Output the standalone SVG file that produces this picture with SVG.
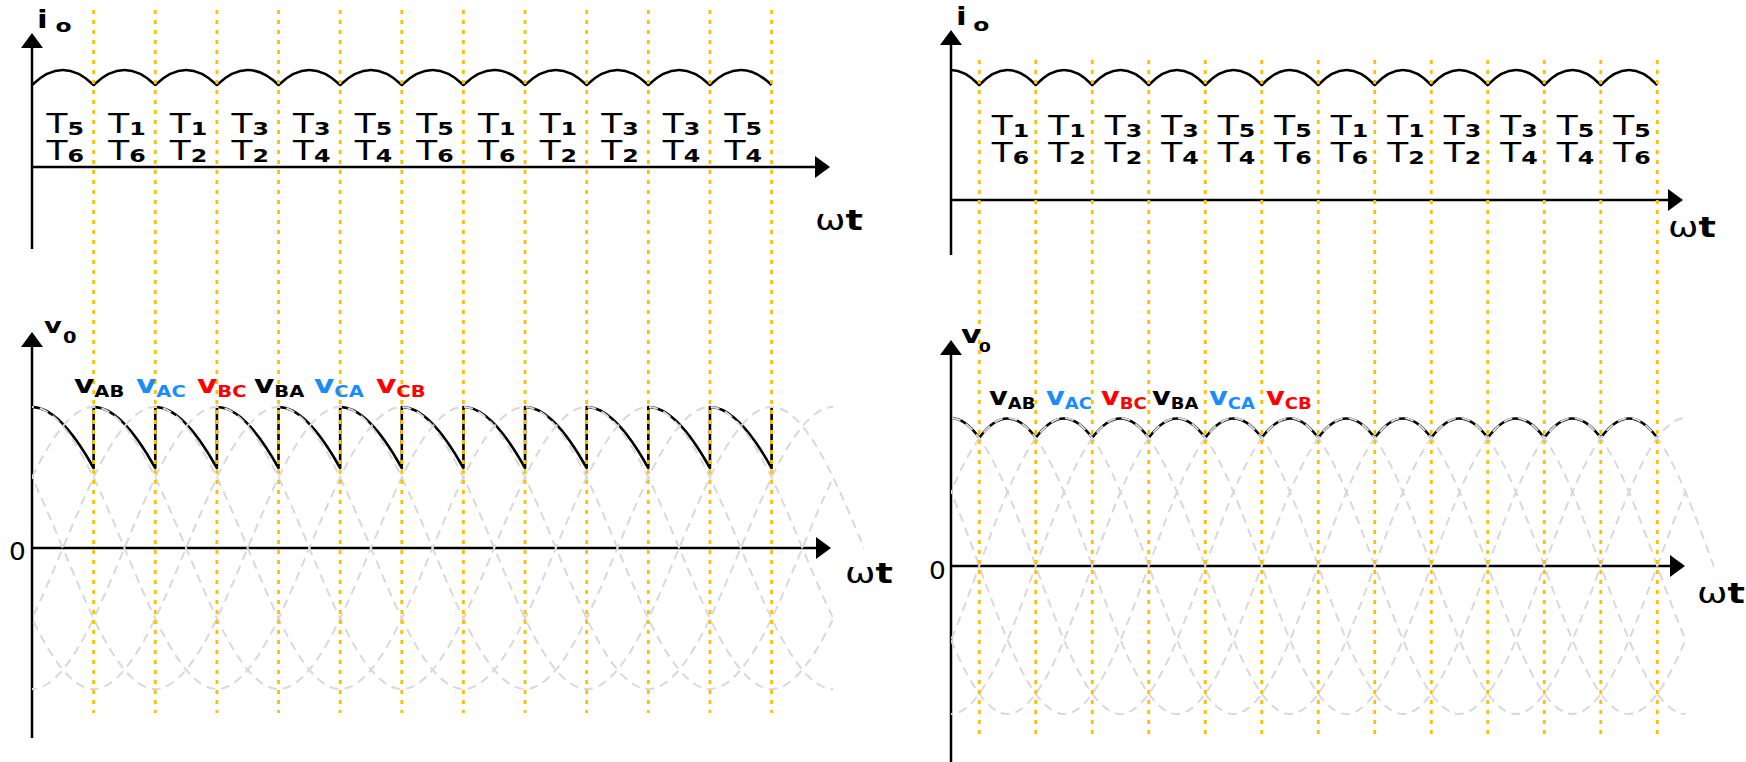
<svg xmlns="http://www.w3.org/2000/svg" width="1746" height="762" viewBox="0 0 1746 762">
<style>
.ax{stroke:#000;stroke-width:2.5;fill:none;marker-end:url(#arr)}
.wave{stroke:#000;stroke-width:2.6;fill:none;stroke-linejoin:round}
.sine{stroke:#d9d9d9;stroke-width:2;fill:none;stroke-dasharray:9 6}
.grid{stroke:#ffc000;stroke-width:2.8;stroke-dasharray:4 6;fill:none}
text{font-family:"DejaVu Sans","Liberation Sans",sans-serif;fill:#000}
.tl{font-size:26px;text-anchor:middle}
.ts{font-size:18px;font-weight:bold}
.vl{font-size:24px;font-weight:bold}
.vs{font-size:15px}
.ax-lbl{font-size:28px}
.bold{font-weight:bold}
.blu{fill:#1a8cff}
.red{fill:#ff0000}
</style>
<defs>
<marker id="arr" viewBox="0 0 15 22" refX="7" refY="11" markerWidth="15" markerHeight="22" markerUnits="userSpaceOnUse" orient="auto"><path d="M0,0 L15,11 L0,22 z" fill="#000"/></marker>
<path id="sineL" class="sine" d="M0,407 c20.544,0 41.089,27.876 61.633,70.5 c20.544,42.624 41.089,98.376 61.633,141 c20.544,42.624 41.089,70.5 61.633,70.5 c20.544,0 41.089,-27.876 61.633,-70.5 c20.544,-42.624 41.089,-98.376 61.633,-141 c20.544,-42.624 41.089,-70.5 61.633,-70.5 c20.544,0 41.089,27.876 61.633,70.5 c20.544,42.624 41.089,98.376 61.633,141 c20.544,42.624 41.089,70.5 61.633,70.5 c20.544,0 41.089,-27.876 61.633,-70.5 c20.544,-42.624 41.089,-98.376 61.633,-141 c20.544,-42.624 41.089,-70.5 61.633,-70.5 c20.544,0 41.089,27.876 61.633,70.5 c20.544,42.624 41.089,98.376 61.633,141 c20.544,42.624 41.089,70.5 61.633,70.5 c20.544,0 41.089,-27.876 61.633,-70.5 c20.544,-42.624 41.089,-98.376 61.633,-141 c20.544,-42.624 41.089,-70.5 61.633,-70.5 c20.544,0 41.089,27.876 61.633,70.5 c20.544,42.624 41.089,98.376 61.633,141"/>
<path id="sineR" class="sine" d="M0,418 c18.833,0 37.667,29.26 56.5,74 c18.833,44.74 37.667,103.26 56.5,148 c18.833,44.74 37.667,74 56.5,74 c18.833,0 37.667,-29.26 56.5,-74 c18.833,-44.74 37.667,-103.26 56.5,-148 c18.833,-44.74 37.667,-74 56.5,-74 c18.833,0 37.667,29.26 56.5,74 c18.833,44.74 37.667,103.26 56.5,148 c18.833,44.74 37.667,74 56.5,74 c18.833,0 37.667,-29.26 56.5,-74 c18.833,-44.74 37.667,-103.26 56.5,-148 c18.833,-44.74 37.667,-74 56.5,-74 c18.833,0 37.667,29.26 56.5,74 c18.833,44.74 37.667,103.26 56.5,148 c18.833,44.74 37.667,74 56.5,74 c18.833,0 37.667,-29.26 56.5,-74 c18.833,-44.74 37.667,-103.26 56.5,-148 c18.833,-44.74 37.667,-74 56.5,-74 c18.833,0 37.667,29.26 56.5,74 c18.833,44.74 37.667,103.26 56.5,148"/>
<clipPath id="clipL"><rect x="32" y="300" width="801.2" height="462"/></clipPath>
<clipPath id="clipL0"><rect x="32" y="300" width="832" height="462"/></clipPath>
<clipPath id="clipR"><rect x="951" y="300" width="734.5" height="462"/></clipPath>
<clipPath id="clipR0"><rect x="951" y="300" width="763" height="462"/></clipPath>
</defs>
<rect width="1746" height="762" fill="#fff"/>

<!-- LEFT TOP: output current -->
<g id="left-current">
<path class="ax" d="M32,249 V41"/>
<path class="ax" d="M32,167 H822"/>
<path class="wave" d="M32,85 c20.544,-20 41.089,-20 61.633,0 c20.544,-20 41.089,-20 61.633,0 c20.544,-20 41.089,-20 61.633,0 c20.544,-20 41.089,-20 61.633,0 c20.544,-20 41.089,-20 61.633,0 c20.544,-20 41.089,-20 61.633,0 c20.544,-20 41.089,-20 61.633,0 c20.544,-20 41.089,-20 61.633,0 c20.544,-20 41.089,-20 61.633,0 c20.544,-20 41.089,-20 61.633,0 c20.544,-20 41.089,-20 61.633,0 c20.544,-20 41.089,-20 61.633,0"/>
</g>

<!-- LEFT BOTTOM: output voltage -->
<g id="left-voltage">
<path class="ax" d="M32,738 V340"/>
<path class="ax" d="M32,548 H823"/>
<path class="wave" d="M32,407 c20.544,0 41.089,24.12 61.633,61 v-61 c20.544,0 41.089,24.12 61.633,61 v-61 c20.544,0 41.089,24.12 61.633,61 v-61 c20.544,0 41.089,24.12 61.633,61 v-61 c20.544,0 41.089,24.12 61.633,61 v-61 c20.544,0 41.089,24.12 61.633,61 v-61 c20.544,0 41.089,24.12 61.633,61 v-61 c20.544,0 41.089,24.12 61.633,61 v-61 c20.544,0 41.089,24.12 61.633,61 v-61 c20.544,0 41.089,24.12 61.633,61 v-61 c20.544,0 41.089,24.12 61.633,61 v-61 c20.544,0 41.089,24.12 61.633,61 v-61"/>
<g clip-path="url(#clipL0)"><use href="#sineL" x="-337.8"/></g>
<g clip-path="url(#clipL)">
<use href="#sineL" x="-276.165"/>
<use href="#sineL" x="-214.532"/>
<use href="#sineL" x="-152.9"/>
<use href="#sineL" x="-91.266"/>
<use href="#sineL" x="-29.633"/>
</g>
</g>

<!-- RIGHT TOP: output current -->
<g id="right-current">
<path class="ax" d="M951,255 V38"/>
<path class="ax" d="M951,200 H1675"/>
<path class="wave" d="M951,70 c9.417,0 18.833,5.23 28.25,15 c18.833,-20 37.667,-20 56.5,0 c18.833,-20 37.667,-20 56.5,0 c18.833,-20 37.667,-20 56.5,0 c18.833,-20 37.667,-20 56.5,0 c18.833,-20 37.667,-20 56.5,0 c18.833,-20 37.667,-20 56.5,0 c18.833,-20 37.667,-20 56.5,0 c18.833,-20 37.667,-20 56.5,0 c18.833,-20 37.667,-20 56.5,0 c18.833,-20 37.667,-20 56.5,0 c18.833,-20 37.667,-20 56.5,0 c18.833,-20 37.667,-20 56.5,0"/>
</g>

<!-- RIGHT BOTTOM: output voltage -->
<g id="right-voltage">
<path class="ax" d="M951,762 V348"/>
<path class="ax" d="M951,566 H1677"/>
<path class="wave" d="M951,418 c9.417,0 18.833,6.916 28.25,19.83 c18.833,-25.83 37.667,-25.83 56.5,0 c18.833,-25.83 37.667,-25.83 56.5,0 c18.833,-25.83 37.667,-25.83 56.5,0 c18.833,-25.83 37.667,-25.83 56.5,0 c18.833,-25.83 37.667,-25.83 56.5,0 c18.833,-25.83 37.667,-25.83 56.5,0 c18.833,-25.83 37.667,-25.83 56.5,0 c18.833,-25.83 37.667,-25.83 56.5,0 c18.833,-25.83 37.667,-25.83 56.5,0 c18.833,-25.83 37.667,-25.83 56.5,0 c18.833,-25.83 37.667,-25.83 56.5,0 c18.833,-25.83 37.667,-25.83 56.5,0"/>
<g clip-path="url(#clipR0)"><use href="#sineR" x="612"/></g>
<g clip-path="url(#clipR)">
<use href="#sineR" x="668.5"/>
<use href="#sineR" x="725"/>
<use href="#sineR" x="781.5"/>
<use href="#sineR" x="838"/>
<use href="#sineR" x="894.5"/>
</g>
</g>

<!-- yellow dotted markers -->
<g id="grid">
<path class="grid" d="M93.633,10V713M155.266,10V713M216.899,10V713M278.532,10V713M340.165,10V713M401.798,10V713M463.431,10V713M525.064,10V713M586.697,10V713M648.33,10V713M709.963,10V713M771.596,10V713"/>
<path class="grid" d="M979.25,60V737M1035.75,60V737M1092.25,60V737M1148.75,60V737M1205.25,60V737M1261.75,60V737M1318.25,60V737M1374.75,60V737M1431.25,60V737M1487.75,60V737M1544.25,60V737M1600.75,60V737M1657.25,60V737"/>
</g>

<!-- axis labels -->
<g id="labels-axes">
<text class="bold" font-size="24" transform="translate(37,28) scale(1.3,1)">i<tspan font-size="18" dx="6" dy="4">o</tspan></text>
<text class="bold" font-size="24" transform="translate(956,25) scale(1.3,1)">i<tspan font-size="18" dx="5" dy="6">o</tspan></text>
<text class="bold" font-size="21" transform="translate(44,333) scale(1.3,1)">v<tspan font-size="15" dx="1" dy="9.5">0</tspan></text>
<text class="bold" font-size="25" transform="translate(961,343) scale(1.25,1)">v<tspan font-size="14" dx="-2" dy="9">0</tspan></text>
<text font-size="24" transform="translate(9,560) scale(1.1,1)">0</text>
<text font-size="24" transform="translate(929,579) scale(1.1,1)">0</text>
<text class="ax-lbl" transform="translate(815,230) scale(1.3,1)">ω<tspan class="bold">t</tspan></text>
<text class="ax-lbl" transform="translate(1668,237) scale(1.3,1)">ω<tspan class="bold">t</tspan></text>
<text class="ax-lbl" transform="translate(845,583) scale(1.3,1)">ω<tspan class="bold">t</tspan></text>
<text class="ax-lbl" transform="translate(1697,603) scale(1.3,1)">ω<tspan class="bold">t</tspan></text>
</g>

<!-- thyristor labels left -->
<g id="thyristors-left">
<text class="tl" transform="translate(65.3,133) scale(1.32,1)">T<tspan class="ts" dy="2">5</tspan></text>
<text class="tl" transform="translate(65.3,160) scale(1.32,1)">T<tspan class="ts" dy="2">6</tspan></text>
<text class="tl" transform="translate(127,133) scale(1.32,1)">T<tspan class="ts" dy="2">1</tspan></text>
<text class="tl" transform="translate(127,160) scale(1.32,1)">T<tspan class="ts" dy="2">6</tspan></text>
<text class="tl" transform="translate(188.6,133) scale(1.32,1)">T<tspan class="ts" dy="2">1</tspan></text>
<text class="tl" transform="translate(188.6,160) scale(1.32,1)">T<tspan class="ts" dy="2">2</tspan></text>
<text class="tl" transform="translate(250.2,133) scale(1.32,1)">T<tspan class="ts" dy="2">3</tspan></text>
<text class="tl" transform="translate(250.2,160) scale(1.32,1)">T<tspan class="ts" dy="2">2</tspan></text>
<text class="tl" transform="translate(311.8,133) scale(1.32,1)">T<tspan class="ts" dy="2">3</tspan></text>
<text class="tl" transform="translate(311.8,160) scale(1.32,1)">T<tspan class="ts" dy="2">4</tspan></text>
<text class="tl" transform="translate(373.5,133) scale(1.32,1)">T<tspan class="ts" dy="2">5</tspan></text>
<text class="tl" transform="translate(373.5,160) scale(1.32,1)">T<tspan class="ts" dy="2">4</tspan></text>
<text class="tl" transform="translate(435.1,133) scale(1.32,1)">T<tspan class="ts" dy="2">5</tspan></text>
<text class="tl" transform="translate(435.1,160) scale(1.32,1)">T<tspan class="ts" dy="2">6</tspan></text>
<text class="tl" transform="translate(496.7,133) scale(1.32,1)">T<tspan class="ts" dy="2">1</tspan></text>
<text class="tl" transform="translate(496.7,160) scale(1.32,1)">T<tspan class="ts" dy="2">6</tspan></text>
<text class="tl" transform="translate(558.4,133) scale(1.32,1)">T<tspan class="ts" dy="2">1</tspan></text>
<text class="tl" transform="translate(558.4,160) scale(1.32,1)">T<tspan class="ts" dy="2">2</tspan></text>
<text class="tl" transform="translate(620,133) scale(1.32,1)">T<tspan class="ts" dy="2">3</tspan></text>
<text class="tl" transform="translate(620,160) scale(1.32,1)">T<tspan class="ts" dy="2">2</tspan></text>
<text class="tl" transform="translate(681.6,133) scale(1.32,1)">T<tspan class="ts" dy="2">3</tspan></text>
<text class="tl" transform="translate(681.6,160) scale(1.32,1)">T<tspan class="ts" dy="2">4</tspan></text>
<text class="tl" transform="translate(743.3,133) scale(1.32,1)">T<tspan class="ts" dy="2">5</tspan></text>
<text class="tl" transform="translate(743.3,160) scale(1.32,1)">T<tspan class="ts" dy="2">4</tspan></text>
</g>

<!-- thyristor labels right -->
<g id="thyristors-right">
<text class="tl" transform="translate(1010.5,135) scale(1.32,1)">T<tspan class="ts" dy="2">1</tspan></text>
<text class="tl" transform="translate(1010.5,162) scale(1.32,1)">T<tspan class="ts" dy="2">6</tspan></text>
<text class="tl" transform="translate(1067,135) scale(1.32,1)">T<tspan class="ts" dy="2">1</tspan></text>
<text class="tl" transform="translate(1067,162) scale(1.32,1)">T<tspan class="ts" dy="2">2</tspan></text>
<text class="tl" transform="translate(1123.5,135) scale(1.32,1)">T<tspan class="ts" dy="2">3</tspan></text>
<text class="tl" transform="translate(1123.5,162) scale(1.32,1)">T<tspan class="ts" dy="2">2</tspan></text>
<text class="tl" transform="translate(1180,135) scale(1.32,1)">T<tspan class="ts" dy="2">3</tspan></text>
<text class="tl" transform="translate(1180,162) scale(1.32,1)">T<tspan class="ts" dy="2">4</tspan></text>
<text class="tl" transform="translate(1236.5,135) scale(1.32,1)">T<tspan class="ts" dy="2">5</tspan></text>
<text class="tl" transform="translate(1236.5,162) scale(1.32,1)">T<tspan class="ts" dy="2">4</tspan></text>
<text class="tl" transform="translate(1293,135) scale(1.32,1)">T<tspan class="ts" dy="2">5</tspan></text>
<text class="tl" transform="translate(1293,162) scale(1.32,1)">T<tspan class="ts" dy="2">6</tspan></text>
<text class="tl" transform="translate(1349.5,135) scale(1.32,1)">T<tspan class="ts" dy="2">1</tspan></text>
<text class="tl" transform="translate(1349.5,162) scale(1.32,1)">T<tspan class="ts" dy="2">6</tspan></text>
<text class="tl" transform="translate(1406,135) scale(1.32,1)">T<tspan class="ts" dy="2">1</tspan></text>
<text class="tl" transform="translate(1406,162) scale(1.32,1)">T<tspan class="ts" dy="2">2</tspan></text>
<text class="tl" transform="translate(1462.5,135) scale(1.32,1)">T<tspan class="ts" dy="2">3</tspan></text>
<text class="tl" transform="translate(1462.5,162) scale(1.32,1)">T<tspan class="ts" dy="2">2</tspan></text>
<text class="tl" transform="translate(1519,135) scale(1.32,1)">T<tspan class="ts" dy="2">3</tspan></text>
<text class="tl" transform="translate(1519,162) scale(1.32,1)">T<tspan class="ts" dy="2">4</tspan></text>
<text class="tl" transform="translate(1575.5,135) scale(1.32,1)">T<tspan class="ts" dy="2">5</tspan></text>
<text class="tl" transform="translate(1575.5,162) scale(1.32,1)">T<tspan class="ts" dy="2">4</tspan></text>
<text class="tl" transform="translate(1632,135) scale(1.32,1)">T<tspan class="ts" dy="2">5</tspan></text>
<text class="tl" transform="translate(1632,162) scale(1.32,1)">T<tspan class="ts" dy="2">6</tspan></text>
</g>

<!-- line voltage labels left -->
<g id="vlabels-left">
<text class="vl" transform="translate(74,393) scale(1.3,1)">v<tspan class="vs" dy="4">AB</tspan></text>
<text class="vl blu" transform="translate(136,393) scale(1.3,1)">v<tspan class="vs" dy="4">AC</tspan></text>
<text class="vl red" transform="translate(197,393) scale(1.3,1)">v<tspan class="vs" dy="4">BC</tspan></text>
<text class="vl" transform="translate(254,393) scale(1.3,1)">v<tspan class="vs" dy="4">BA</tspan></text>
<text class="vl blu" transform="translate(314,393) scale(1.3,1)">v<tspan class="vs" dy="4">CA</tspan></text>
<text class="vl red" transform="translate(376,393) scale(1.3,1)">v<tspan class="vs" dy="4">CB</tspan></text>
</g>

<!-- line voltage labels right -->
<g id="vlabels-right">
<text class="vl" transform="translate(989,405) scale(1.2,1)">v<tspan class="vs" dy="4">AB</tspan></text>
<text class="vl blu" transform="translate(1046,405) scale(1.2,1)">v<tspan class="vs" dy="4">AC</tspan></text>
<text class="vl red" transform="translate(1101,405) scale(1.2,1)">v<tspan class="vs" dy="4">BC</tspan></text>
<text class="vl" transform="translate(1152,405) scale(1.2,1)">v<tspan class="vs" dy="4">BA</tspan></text>
<text class="vl blu" transform="translate(1209,405) scale(1.2,1)">v<tspan class="vs" dy="4">CA</tspan></text>
<text class="vl red" transform="translate(1266,405) scale(1.2,1)">v<tspan class="vs" dy="4">CB</tspan></text>
</g>
</svg>
